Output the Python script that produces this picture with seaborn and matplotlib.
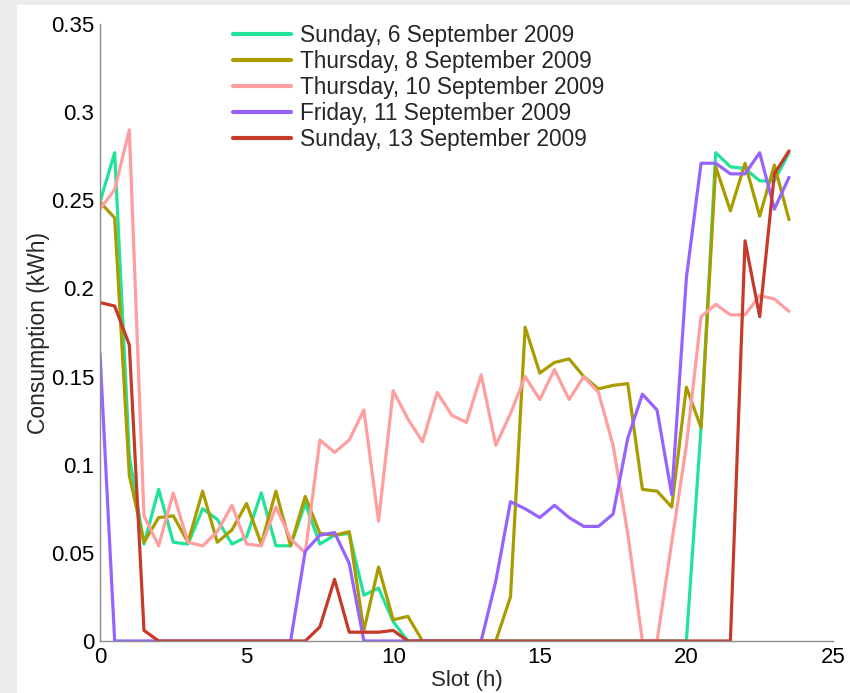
import numpy as np
import pandas as pd
import matplotlib
matplotlib.use("Agg")
import matplotlib.pyplot as plt
import seaborn as sns
from matplotlib.patches import Rectangle

# ---- data ----
slots = [i * 0.5 for i in range(48)]

sun6 = [0.249, 0.277, 0.105, 0.055, 0.086, 0.056, 0.055, 0.075, 0.069, 0.055,
        0.059, 0.084, 0.054, 0.054, 0.078, 0.055, 0.060, 0.061, 0.026, 0.030,
        0.011, 0, 0, 0, 0, 0, 0, 0, 0, 0,
        0, 0, 0, 0, 0, 0, 0, 0, 0, 0,
        0, 0.121, 0.277, 0.269, 0.268, 0.261, 0.261, 0.277]

thu8 = [0.249, 0.240, 0.094, 0.056, 0.070, 0.071, 0.056, 0.085, 0.056, 0.063,
        0.078, 0.055, 0.085, 0.054, 0.082, 0.061, 0.060, 0.062, 0.006, 0.042,
        0.012, 0.014, 0, 0, 0, 0, 0, 0, 0.025, 0.178,
        0.152, 0.158, 0.160, 0.150, 0.143, 0.145, 0.146, 0.086, 0.085, 0.076,
        0.144, 0.121, 0.269, 0.244, 0.271, 0.241, 0.270, 0.239]

thu10 = [0.245, 0.256, 0.290, 0.071, 0.054, 0.084, 0.056, 0.054, 0.062, 0.077,
         0.055, 0.054, 0.076, 0.058, 0.050, 0.114, 0.107, 0.114, 0.131, 0.068,
         0.142, 0.126, 0.113, 0.141, 0.128, 0.124, 0.151, 0.111, 0.129, 0.150,
         0.137, 0.154, 0.137, 0.150, 0.141, 0.111, 0.061, 0, 0, 0.056,
         0.111, 0.184, 0.191, 0.185, 0.185, 0.196, 0.194, 0.187]

fri11 = [0.163, 0, 0, 0, 0, 0, 0, 0, 0, 0,
         0, 0, 0, 0, 0.051, 0.060, 0.0615, 0.044, 0, 0,
         0, 0, 0, 0, 0, 0, 0, 0.034, 0.079, 0.075,
         0.070, 0.077, 0.070, 0.065, 0.065, 0.072, 0.115, 0.140, 0.131, 0.083,
         0.206, 0.271, 0.271, 0.265, 0.265, 0.277, 0.245, 0.263]

sun13 = [0.192, 0.190, 0.168, 0.006, 0, 0, 0, 0, 0, 0,
         0, 0, 0, 0, 0, 0.008, 0.035, 0.005, 0.005, 0.005,
         0.006, 0, 0, 0, 0, 0, 0, 0, 0, 0,
         0, 0, 0, 0, 0, 0, 0, 0, 0, 0,
         0, 0, 0, 0, 0.227, 0.184, 0.265, 0.278]

labels = ["Sunday, 6 September 2009", "Thursday, 8 September 2009",
          "Thursday, 10 September 2009", "Friday, 11 September 2009",
          "Sunday, 13 September 2009"]
series = [sun6, thu8, thu10, fri11, sun13]
colors = ["#22e39a", "#a89c00", "#ff9e9e", "#9663ff", "#c63a2a"]

yticks = [0, 0.05, 0.1, 0.15, 0.2, 0.25, 0.3, 0.35]
ytick_labels = ["0", "0.05", "0.1", "0.15", "0.2", "0.25", "0.3", "0.35"]
xticks = [0, 5, 10, 15, 20, 25]

df = pd.concat([pd.DataFrame({"Slot": slots, "Consumption": s, "Day": lab})
                for s, lab in zip(series, labels)], ignore_index=True)

# ---- style ----
sns.set_style("white")
plt.rcParams["font.family"] = ["Liberation Sans", "DejaVu Sans"]

fig = plt.figure(figsize=(8.5, 6.93), dpi=100, facecolor="#ececec")
fig.patches.append(Rectangle((17 / 850, 0), 1, 1 - 5 / 693, transform=fig.transFigure,
                             facecolor="white", edgecolor="none", zorder=-10))
ax = fig.add_axes([100 / 850, 1 - 641 / 693, 733 / 850, 617 / 693])
ax.set_facecolor("none")

sns.lineplot(data=df, x="Slot", y="Consumption", hue="Day", hue_order=labels,
             palette=colors, linewidth=2.3, ax=ax, legend=True)

ax.set_xlim(0, 25)
ax.set_ylim(0, 0.35)
ax.set_xticks(xticks)
ax.set_xticklabels([str(t) for t in xticks])
ax.set_yticks(yticks)
ax.set_yticklabels(ytick_labels)
ax.set_xlabel("Slot (h)", fontsize=16, labelpad=2)
ax.set_ylabel("Consumption (kWh)", fontsize=16.5, labelpad=1)

for side in ["top", "right"]:
    ax.spines[side].set_visible(False)
for side in ["left", "bottom"]:
    ax.spines[side].set_color("#8c8c8c")
    ax.spines[side].set_linewidth(1.0)
ax.tick_params(direction="in", length=5, width=1, color="#8c8c8c",
               labelsize=16, labelcolor="black", pad=4)

leg = ax.legend(loc="upper left", bbox_to_anchor=(224 / 850, 1 - 15 / 693),
                bbox_transform=fig.transFigure, frameon=False, fontsize=16.3,
                handlelength=2.56, handletextpad=0.38, labelspacing=0.13,
                borderaxespad=0)
for line in leg.get_lines():
    line.set_linewidth(3)

fig.savefig("out.png", dpi=100, facecolor=fig.get_facecolor())
